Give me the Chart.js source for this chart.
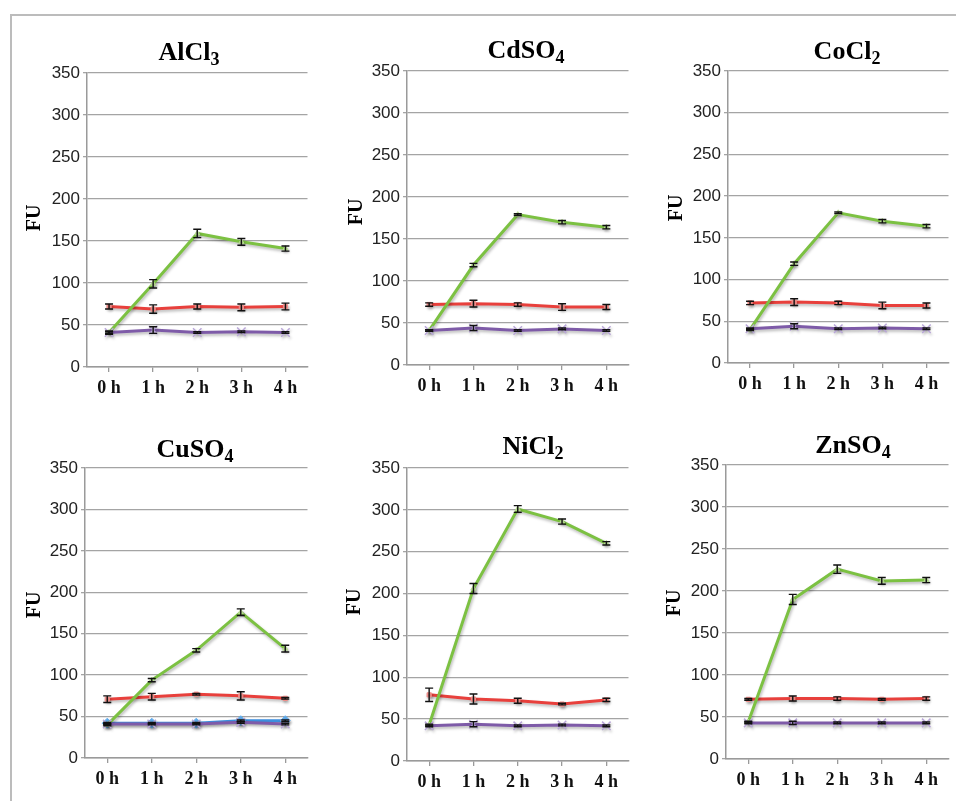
<!DOCTYPE html>
<html>
<head>
<meta charset="utf-8">
<script src="https://cdn.jsdelivr.net/npm/chart.js@4.4.0/dist/chart.umd.min.js"></script>
<style>
  body { margin: 0; background: #fff; width: 956px; height: 801px; overflow: hidden; position: relative; }
  #frame { position: absolute; left: 10px; top: 14px; width: 960px; height: 800px;
           border-left: 2px solid #bcbcbc; border-top: 2px solid #bcbcbc; }
  canvas { position: absolute; }
</style>
</head>
<body>
<div id="frame"></div>
<canvas id="c0"></canvas>
<canvas id="c1"></canvas>
<canvas id="c2"></canvas>
<canvas id="c3"></canvas>
<canvas id="c4"></canvas>
<canvas id="c5"></canvas>
<script>
// ---- data ----
const hours = ['0 h', '1 h', '2 h', '3 h', '4 h'];
const yMax = 350;
const yStep = 50;
const saltNames = ['AlCl', 'CdSO', 'CoCl', 'CuSO', 'NiCl', 'ZnSO'];
const saltSubs = ['3', '4', '2', '4', '2', '4'];

const alGreen = [41, 99, 159, 149, 141];
const alGreenErr = [1, 5, 5, 4, 3];
const alRed = [72, 69, 72, 71, 72];
const alRedErr = [3, 5, 3, 4, 4];
const alPurple = [41, 44, 41, 42, 41];
const alPurpleErr = [2, 4, 1, 1, 1];

const cdGreen = [41, 119, 179, 170, 164];
const cdGreenErr = [1, 2, 1, 2, 2];
const cdRed = [72, 73, 72, 69, 69];
const cdRedErr = [2, 4, 2, 4, 3];
const cdPurple = [41, 44, 41, 43, 41];
const cdPurpleErr = [1, 3, 1, 1, 1];

const coGreen = [40, 119, 180, 170, 164];
const coGreenErr = [1, 2, 1, 2, 2];
const coRed = [72, 73, 72, 69, 69];
const coRedErr = [2, 4, 2, 4, 3];
const coPurple = [41, 44, 41, 42, 41];
const coPurpleErr = [1, 3, 1, 1, 1];

const cuGreen = [40, 94, 130, 176, 132];
const cuGreenErr = [1, 2, 2, 4, 4];
const cuRed = [71, 74, 77, 75, 72];
const cuRedErr = [4, 4, 1, 5, 1];
const cuPurple = [41, 41, 41, 43, 41];
const cuPurpleErr = [1, 1, 1, 1, 1];
const cuBlue = [42, 42, 42, 45, 45];
const cuBlueErr = [1, 1, 1, 1, 1];

const niGreen = [43, 206, 301, 286, 260];
const niGreenErr = [1, 6, 4, 3, 2];
const niRed = [79, 74, 72, 68, 73];
const niRedErr = [8, 6, 3, 1, 2];
const niPurple = [42, 44, 42, 43, 42];
const niPurpleErr = [1, 3, 1, 1, 1];

const znGreen = [44, 190, 226, 212, 213];
const znGreenErr = [1, 6, 5, 4, 3];
const znRed = [71, 72, 72, 71, 72];
const znRedErr = [1, 3, 2, 1, 2];
const znPurple = [43, 43, 43, 43, 43];
const znPurpleErr = [1, 2, 1, 1, 1];

// ---- panel layout (page pixels) ----
const boxes = [
  {left: 12,  top: 16,  w: 303, h: 389, axisX: 87,  yTop: 73,  yBot: 367, xRight: 310, titleX: 189, titleY: 60,  fuX: 35,  fuY: 218},
  {left: 322, top: 16,  w: 314, h: 389, axisX: 407, yTop: 71,  yBot: 365, xRight: 630, titleX: 526, titleY: 58,  fuX: 357, fuY: 212},
  {left: 640, top: 16,  w: 316, h: 389, axisX: 728, yTop: 71,  yBot: 363, xRight: 952, titleX: 847, titleY: 59,  fuX: 677, fuY: 208},
  {left: 12,  top: 405, w: 303, h: 396, axisX: 85,  yTop: 468, yBot: 758, xRight: 310, titleX: 195, titleY: 457, fuX: 35,  fuY: 605},
  {left: 322, top: 405, w: 314, h: 396, axisX: 407, yTop: 468, yBot: 761, xRight: 632, titleX: 533, titleY: 454, fuX: 355, fuY: 602},
  {left: 640, top: 405, w: 316, h: 396, axisX: 726, yTop: 465, yBot: 759, xRight: 952, titleX: 853, titleY: 453, fuX: 675, fuY: 603}
];

const panelData = [
  {green: alGreen, greenErr: alGreenErr, red: alRed, redErr: alRedErr, purple: alPurple, purpleErr: alPurpleErr},
  {green: cdGreen, greenErr: cdGreenErr, red: cdRed, redErr: cdRedErr, purple: cdPurple, purpleErr: cdPurpleErr},
  {green: coGreen, greenErr: coGreenErr, red: coRed, redErr: coRedErr, purple: coPurple, purpleErr: coPurpleErr},
  {green: cuGreen, greenErr: cuGreenErr, red: cuRed, redErr: cuRedErr, purple: cuPurple, purpleErr: cuPurpleErr, blue: cuBlue, blueErr: cuBlueErr},
  {green: niGreen, greenErr: niGreenErr, red: niRed, redErr: niRedErr, purple: niPurple, purpleErr: niPurpleErr},
  {green: znGreen, greenErr: znGreenErr, red: znRed, redErr: znRedErr, purple: znPurple, purpleErr: znPurpleErr}
];

const serif = '"Liberation Serif", "DejaVu Serif", serif';
const sans = '"Liberation Sans", Arial, sans-serif';

// soft shadow under the lines, like the office chart
const shadowPlugin = {
  id: 'lineShadow',
  beforeDatasetDraw(chart) {
    const ctx = chart.ctx;
    ctx.save();
    ctx.shadowColor = 'rgba(0,0,0,0.28)';
    ctx.shadowBlur = 3;
    ctx.shadowOffsetX = 1;
    ctx.shadowOffsetY = 2;
  },
  afterDatasetDraw(chart) {
    chart.ctx.restore();
  }
};

const errorBarPlugin = {
  id: 'errorBars',
  afterDatasetsDraw(chart) {
    const ctx = chart.ctx;
    const y = chart.scales.y;
    ctx.save();
    ctx.strokeStyle = '#111';
    ctx.lineWidth = 1.4;
    chart.data.datasets.forEach((ds, i) => {
      if (!ds.errors) return;
      const meta = chart.getDatasetMeta(i);
      meta.data.forEach((pt, j) => {
        const e = ds.errors[j];
        if (!e) return;
        const top = y.getPixelForValue(ds.data[j] + e);
        const bot = y.getPixelForValue(ds.data[j] - e);
        ctx.beginPath();
        ctx.moveTo(pt.x, top); ctx.lineTo(pt.x, bot);
        ctx.moveTo(pt.x - 4, top); ctx.lineTo(pt.x + 4, top);
        ctx.moveTo(pt.x - 4, bot); ctx.lineTo(pt.x + 4, bot);
        ctx.stroke();
      });
    });
    ctx.restore();
  }
};

function labelPlugin(i) {
  const p = boxes[i];
  return {
    id: 'panelLabels',
    afterDraw(chart) {
      const ctx = chart.ctx;
      ctx.save();
      ctx.fillStyle = '#000';
      ctx.textAlign = 'left';
      ctx.textBaseline = 'alphabetic';
      ctx.font = 'bold 26px ' + serif;
      const wb = ctx.measureText(saltNames[i]).width;
      ctx.font = 'bold 18px ' + serif;
      const ws = ctx.measureText(saltSubs[i]).width;
      const x0 = p.titleX - p.left - (wb + ws) / 2;
      const y0 = p.titleY - p.top;
      ctx.font = 'bold 26px ' + serif;
      ctx.fillText(saltNames[i], x0, y0);
      ctx.font = 'bold 18px ' + serif;
      ctx.fillText(saltSubs[i], x0 + wb, y0 + 5);

      ctx.translate(p.fuX - p.left, p.fuY - p.top);
      ctx.rotate(-Math.PI / 2);
      ctx.font = 'bold 20px ' + serif;
      ctx.textAlign = 'center';
      ctx.textBaseline = 'middle';
      ctx.fillText('FU', 0, 0);
      ctx.restore();
    }
  };
}

function buildDatasets(d) {
  const sets = [
    {data: d.purple, errors: d.purpleErr, borderColor: '#7e5ba8', pointStyle: 'crossRot', pointRadius: 6,
     pointBorderColor: '#b9a6d8', pointBackgroundColor: '#b9a6d8', pointBorderWidth: 1.5},
    {data: d.green, errors: d.greenErr, borderColor: '#7cc142', pointStyle: 'triangle', pointRadius: 3,
     pointBorderColor: '#b8dc92', pointBackgroundColor: '#b8dc92', pointBorderWidth: 1},
    {data: d.red, errors: d.redErr, borderColor: '#e8403c', pointStyle: 'rect', pointRadius: 3,
     pointBorderColor: '#f2908c', pointBackgroundColor: '#f2908c', pointBorderWidth: 1}
  ];
  if (d.blue) {
    sets.push({data: d.blue, errors: d.blueErr, borderColor: '#3c8fdf', pointStyle: 'rectRot', pointRadius: 5,
      pointBorderColor: '#66b0f0', pointBackgroundColor: '#66b0f0', pointBorderWidth: 1});
  }
  sets.forEach(s => { s.borderWidth = 3; s.tension = 0; s.fill = false; });
  return sets;
}

function makeChart(i) {
  const p = boxes[i];
  const canvas = document.getElementById('c' + i);
  canvas.width = p.w;
  canvas.height = p.h;
  canvas.style.left = p.left + 'px';
  canvas.style.top = p.top + 'px';

  new Chart(canvas, {
    type: 'line',
    data: {labels: hours, datasets: buildDatasets(panelData[i])},
    options: {
      responsive: false,
      animation: false,
      layout: {padding: {left: 0, top: p.yTop - p.top, right: p.left + p.w - p.xRight, bottom: 0}},
      plugins: {legend: {display: false}, tooltip: {enabled: false}},
      scales: {
        x: {
          offset: true,
          grid: {drawOnChartArea: false, drawTicks: true, tickLength: 5, color: '#9a9a9a', lineWidth: 1.3},
          border: {color: '#9a9a9a', width: 1.5},
          ticks: {color: '#111', padding: 6, font: {family: serif, weight: 'bold', size: 18}},
          afterFit: s => { s.height = p.top + p.h - p.yBot; }
        },
        y: {
          min: 0,
          max: yMax,
          ticks: {stepSize: yStep, color: '#222', padding: 3, font: {family: sans, size: 17}},
          grid: {color: '#a4a4a4', lineWidth: 1.3, tickLength: 4},
          border: {color: '#9a9a9a', width: 1.5},
          afterFit: s => { s.width = p.axisX - p.left; }
        }
      }
    },
    plugins: [shadowPlugin, errorBarPlugin, labelPlugin(i)]
  });
}

for (let i = 0; i < boxes.length; i++) makeChart(i);
</script>
</body>
</html>
